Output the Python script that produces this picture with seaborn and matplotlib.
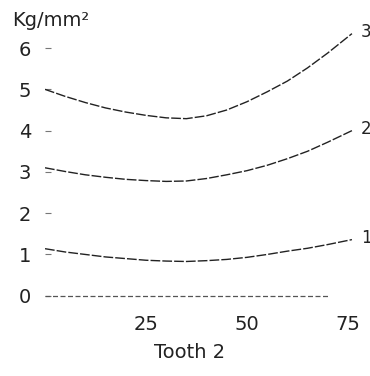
import pandas as pd
import seaborn as sns
import matplotlib.pyplot as plt

# tooth position along the profile
tooth_pos = [0, 5, 10, 15, 20, 25, 30, 35, 40, 45, 50, 55, 60, 65, 70, 76]

# stress curves (Kg/mm^2)
curve_1 = [1.14, 1.06, 1.00, 0.94, 0.90, 0.86, 0.84, 0.83,
           0.85, 0.88, 0.93, 1.00, 1.08, 1.15, 1.24, 1.36]
curve_2 = [3.10, 3.01, 2.93, 2.87, 2.82, 2.79, 2.77, 2.78,
           2.84, 2.93, 3.03, 3.16, 3.32, 3.50, 3.72, 4.00]
curve_3 = [5.00, 4.83, 4.68, 4.55, 4.45, 4.37, 4.31, 4.29,
           4.36, 4.50, 4.70, 4.94, 5.20, 5.52, 5.88, 6.35]

# zero reference line
base_pos = [0, 70]
base_val = [0, 0]

curve_names = ['1', '2', '3']
y_ticks = [0, 1, 2, 3, 4, 5, 6]
x_ticks = [25, 50, 75]

df = pd.DataFrame({
    'pos': tooth_pos * 3,
    'val': curve_1 + curve_2 + curve_3,
    'curve': [n for n in curve_names for _ in tooth_pos],
})
base = pd.DataFrame({'pos': base_pos, 'val': base_val})

sns.set_style('white')
plt.rcParams['font.family'] = ['DejaVu Sans']

fig = plt.figure(figsize=(3.7, 3.76), dpi=100)
ax = fig.add_axes([0.1216, 0.1915, 0.8514, 0.7355])

sns.lineplot(data=df, x='pos', y='val', units='curve', estimator=None,
             color='#222222', linewidth=1.0, ax=ax,
             linestyle=(0, (7, 1.5)))
sns.lineplot(data=base, x='pos', y='val', color='#555555', linewidth=0.9,
             ax=ax, linestyle=(0, (4, 2)))

# curve labels at the right edge
ends = {'1': curve_1[-1], '2': curve_2[-1], '3': curve_3[-1]}
for name, v in ends.items():
    ax.text(78.2, v + 0.05, name, fontsize=12, color='#222222',
            ha='left', va='center', clip_on=False)

ax.set_xlim(0, 78)
ax.set_ylim(-0.2, 6.5)
ax.set_xticks(x_ticks)
ax.set_yticks(y_ticks)
ax.set_xticklabels([str(t) for t in x_ticks], fontsize=14, color='#222222')
ax.set_yticklabels([str(t) for t in y_ticks], fontsize=14, color='#222222')
ax.tick_params(axis='y', length=4, width=0.8, pad=10, color='#777777',
               direction='in', left=True)
ax.tick_params(axis='x', length=0, pad=8)
ax.set_xlabel('')
ax.set_ylabel('')
sns.despine(ax=ax, left=True, bottom=True)

fig.text(12 / 370, 1 - 20 / 376, 'Kg/mm²', fontsize=14, color='#222222',
         ha='left', va='center')
fig.text(190 / 370, 1 - 352 / 376, 'Tooth 2', fontsize=14, color='#222222',
         ha='center', va='center')

fig.savefig('out.png', dpi=100, facecolor='white')
